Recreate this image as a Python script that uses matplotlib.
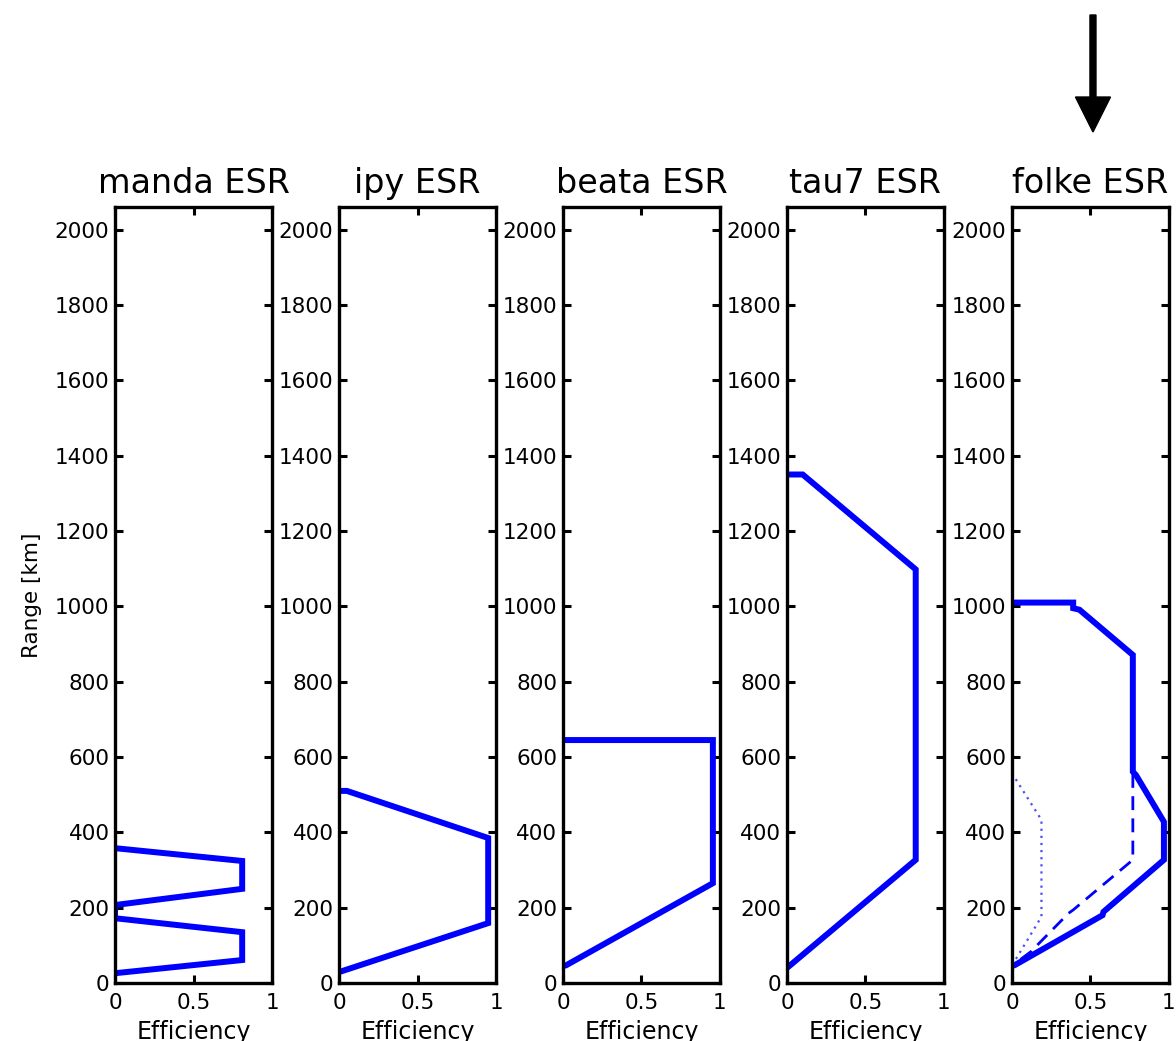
import matplotlib
matplotlib.use('Agg')
import matplotlib.pyplot as plt
from matplotlib.patches import FancyArrow

# ---------------- data (efficiency vs range in km) ----------------
titles = ['manda ESR', 'ipy ESR', 'beata ESR', 'tau7 ESR', 'folke ESR']

manda_eff = [0, 0.81, 0.81, 0, 0, 0.81, 0.81, 0]
manda_rng = [358, 324, 250, 207, 172, 135, 61, 26]

ipy_eff = [0, 0.05, 0.95, 0.95, 0]
ipy_rng = [510, 510, 385, 159, 29]

beata_eff = [0, 0.955, 0.955, 0.02, 0]
beata_rng = [645, 645, 265, 47, 45]

tau7_eff = [0, 0.10, 0.82, 0.82, 0]
tau7_rng = [1350, 1350, 1098, 327, 40]

folke_eff = [0, 0.39, 0.39, 0.43, 0.77, 0.77, 0.79, 0.968, 0.968, 0.583, 0.577, 0.02, 0]
folke_rng = [1010, 1010, 995, 991, 871, 561, 552, 428, 327, 189, 180, 48, 45]

folke_dash_eff = [0.77, 0.77, 0.39, 0.36, 0.12, 0.03]
folke_dash_rng = [555, 327, 194, 185, 83, 55]

folke_dot_eff = [0.0, 0.188, 0.188, 0.02, 0.0]
folke_dot_rng = [557, 433, 176, 60, 45]

yticks = list(range(0, 2001, 200))
xticks = [0, 0.5, 1]
xticklabels = ['0', '0.5', '1']

solid = [(manda_eff, manda_rng), (ipy_eff, ipy_rng), (beata_eff, beata_rng),
         (tau7_eff, tau7_rng), (folke_eff, folke_rng)]

# ---------------- figure ----------------
fig = plt.figure(figsize=(11.76, 10.41), dpi=100)

lefts = [0.0978, 0.2883, 0.4787, 0.6692, 0.8605]
axes = []
for i, left in enumerate(lefts):
    ax = fig.add_axes([left, 0.0557, 0.1335, 0.7454])
    eff, rng = solid[i]
    ax.plot(eff, rng, color='blue', lw=4.3, solid_joinstyle='miter')
    ax.set_xlim(0, 1)
    ax.set_ylim(0, 2060)
    ax.set_yticks(yticks)
    ax.set_yticklabels([str(v) for v in yticks])
    ax.set_xticks(xticks)
    ax.set_xticklabels(xticklabels)
    ax.tick_params(direction='in', top=True, right=True, length=6, width=2.2,
                   labelsize=15.5)
    ax.tick_params(axis='y', pad=4)
    ax.tick_params(axis='x', pad=7)
    for s in ax.spines.values():
        s.set_linewidth(2.4)
    ax.set_title(titles[i], fontsize=24, pad=10)
    ax.set_xlabel('Efficiency', fontsize=17, labelpad=5)
    axes.append(ax)

axes[0].set_ylabel('Range [km]', fontsize=15.5, labelpad=9)

# extra curves on the folke panel
axes[4].plot(folke_dash_eff, folke_dash_rng, color='blue', lw=2, ls=(0, (5, 3)))
axes[4].plot(folke_dot_eff, folke_dot_rng, color='#4d4dff', lw=1.6, ls=(0, (1, 2.2)))

# arrow pointing at folke
fig.add_artist(FancyArrow(0.9294, 0.9856, 0, -0.1124, width=0.0051,
                          head_width=0.0298, head_length=0.0336,
                          length_includes_head=True, color='black',
                          transform=fig.transFigure))

fig.savefig('out.png', dpi=100)
